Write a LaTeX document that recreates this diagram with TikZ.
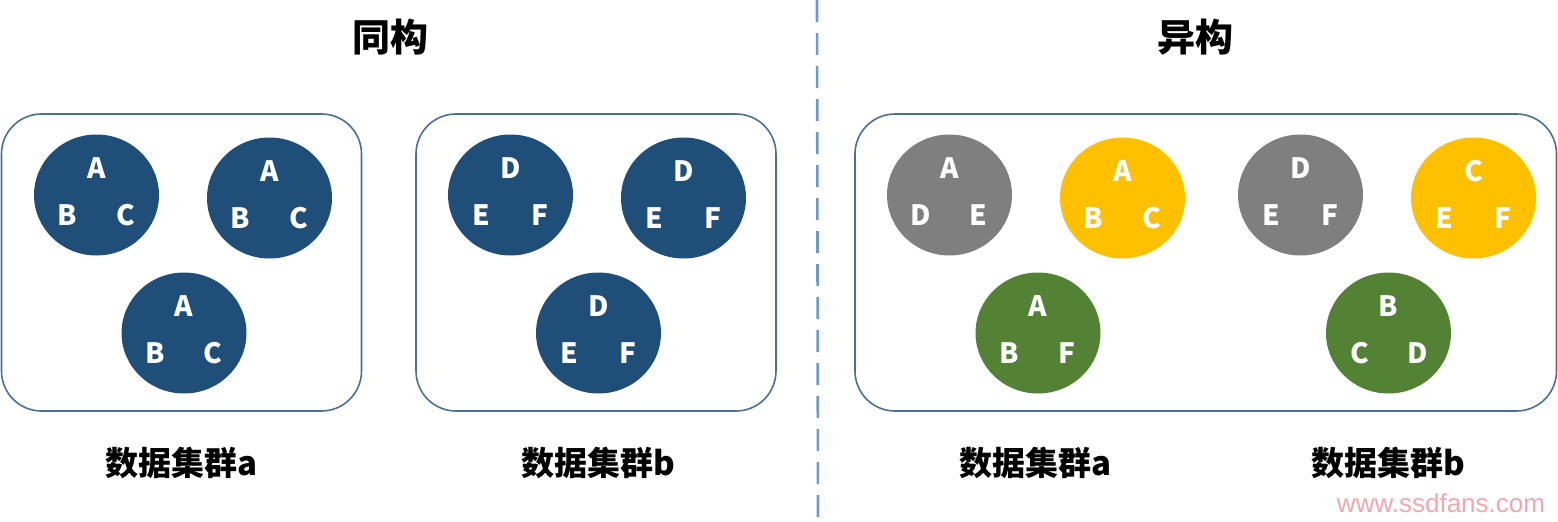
\documentclass[tikz,border=0pt]{standalone}
\usepackage{fontspec}
\setmainfont{Noto Sans CJK SC}
\newfontfamily\wmfont{Liberation Sans}
\usetikzlibrary{shapes.geometric}
\definecolor{dblue}{HTML}{1F4E79}
\definecolor{cgray}{HTML}{7F7F7F}
\definecolor{cyellow}{HTML}{FFC000}
\definecolor{cgreen}{HTML}{548235}
\definecolor{boxc}{HTML}{4A6F94}
\definecolor{dashc}{HTML}{6A9BD0}
\definecolor{wmc}{HTML}{F4A6AE}
\tikzset{
  grp/.style={draw=boxc, line width=1.6pt, rounded corners=40pt},
  cell/.style={ellipse, inner sep=0pt, minimum width=125pt, minimum height=121pt},
  letter/.style={text=white, font=\fontsize{28}{28}\selectfont\bfseries, inner sep=0pt},
  title/.style={font=\fontsize{38}{38}\selectfont\bfseries, inner sep=0pt},
  lab/.style={font=\fontsize{33}{33}\selectfont\bfseries, inner sep=0pt},
}
% \cellnode{name}{x}{y}{colour}{top}{left}{right}
\newcommand\cellnode[7]{%
  \node[cell, fill=#4] (#1) at (#2,#3) {};
  \node[letter] (#1t) at ([yshift=27pt]#1.center) {#5};
  \node[letter] (#1l) at ([xshift=-29pt,yshift=-20pt]#1.center) {#6};
  \node[letter] (#1r) at ([xshift=29pt,yshift=-20pt]#1.center) {#7};
}
\begin{document}
\begin{tikzpicture}[x=1pt,y=-1pt]
\useasboundingbox (0,0) rectangle (1558,522);
% titles
\node[title] (t1) at (390,37) {同构};
\node[title] (t2) at (1195,37) {异构};
% divider
\coordinate (dtop) at (817,0);
\coordinate (dbot) at (818,522);
\draw[dashc, line width=2.6pt, dash pattern=on 22pt off 11pt] (dtop) -- (dbot);
% group boxes
\draw[grp] (1.5,114) rectangle (361.5,411);
\draw[grp] (416,114) rectangle (776,411);
\draw[grp] (855,114) rectangle (1556.5,411);
% box 1
\cellnode{a1}{96.5}{195}{dblue}{A}{B}{C}
\cellnode{a2}{269.5}{198}{dblue}{A}{B}{C}
\cellnode{a3}{184}{333}{dblue}{A}{B}{C}
% box 2
\cellnode{b1}{510.5}{195}{dblue}{D}{E}{F}
\cellnode{b2}{683.5}{198}{dblue}{D}{E}{F}
\cellnode{b3}{598.5}{333}{dblue}{D}{E}{F}
% box 3
\cellnode{c1}{949.5}{195}{cgray}{A}{D}{E}
\cellnode{c2}{1122.5}{198}{cyellow}{A}{B}{C}
\cellnode{c3}{1300.5}{195}{cgray}{D}{E}{F}
\cellnode{c4}{1473.5}{198}{cyellow}{C}{E}{F}
\cellnode{c5}{1038}{333}{cgreen}{A}{B}{F}
\cellnode{c6}{1388.5}{333}{cgreen}{B}{C}{D}
% labels
\node[lab] (l1) at (181,463) {数据集群a};
\node[lab] (l2) at (598,463) {数据集群b};
\node[lab] (l3) at (1035,463) {数据集群a};
\node[lab] (l4) at (1388,463) {数据集群b};
% watermark
\node[text=wmc, font=\wmfont\fontsize{26}{26}\selectfont, inner sep=0pt] (wm) at (1441,503) {www.ssdfans.com};
\end{tikzpicture}
\end{document}
